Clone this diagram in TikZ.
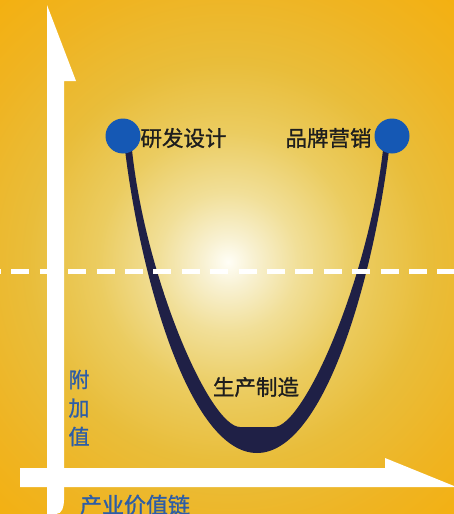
\documentclass[tikz,border=0pt]{standalone}
\usepackage{fontspec}
\newfontfamily\cjk[FakeBold=1.2]{Noto Sans CJK SC}
\definecolor{bgA}{HTML}{FFFEF6}
\definecolor{bgB}{HTML}{F8F1D2}
\definecolor{bgC}{HTML}{F1DF98}
\definecolor{bgD}{HTML}{EBCC60}
\definecolor{bgE}{HTML}{E9BD3A}
\definecolor{bgF}{HTML}{EFB422}
\definecolor{bgG}{HTML}{F4B010}
\definecolor{curvecol}{HTML}{1F2046}
\definecolor{dotblue}{HTML}{1558B4}
\definecolor{txtblue}{HTML}{2D5DA6}
\definecolor{txtdark}{HTML}{1E1E1E}
\pgfdeclareradialshading{bgshade}{\pgfpoint{0bp}{0bp}}{color(0bp)=(bgA); color(1.8bp)=(bgB); color(5bp)=(bgC); color(9.3bp)=(bgD); color(14.3bp)=(bgE); color(20bp)=(bgF); color(25bp)=(bgG); color(50bp)=(bgG)}
\tikzset{
  dotnode/.style={circle, fill=dotblue, minimum size=35pt, inner sep=0pt},
  lbl/.style={inner sep=0pt, text=txtdark, font=\cjk\fontsize{21.5pt}{25pt}\selectfont},
  blbl/.style={inner sep=0pt, text=txtblue, font=\cjk\fontsize{21pt}{28.5pt}\selectfont},
  axisfill/.style={fill=white},
  dashline/.style={white, line width=5pt, dash pattern=on 18pt off 10.4pt}
}
\begin{document}
\begin{tikzpicture}[x=1pt,y=-1pt]
\useasboundingbox (0,0) rectangle (454,514);
\begin{scope}
\clip (0,0) rectangle (454,514);
\shade[shading=bgshade] (228,262) circle[radius=350pt];
\end{scope}
% axes
\fill[axisfill] (47,5) -- (76,81) -- (64,81) -- (64,500) to[out=-90,in=0] (56,514) -- (47,514) -- cycle;
\fill[axisfill] (20,468) -- (385,468) -- (385,458) -- (454,486) -- (454,487) -- (20,487) -- cycle;
% smile curve
\fill[curvecol] (125,150) .. controls (141,280) and (190,453) .. (257,453)
  .. controls (324,453) and (373,280) .. (389,150) -- (383,150)
  .. controls (368,280) and (304,427) .. (274,427) -- (240,427)
  .. controls (210,427) and (146,280) .. (132,150) -- cycle;
% dashed line
\draw[dashline] (-17.1,271) -- (454,271);
% dots
\node[dotnode] (rd) at (123,136) {};
\node[dotnode] (bm) at (392,136) {};
% labels
\node[lbl] (t1) at (183.5,138) {研发设计};
\node[lbl] (t2) at (328.5,138) {品牌营销};
\node[lbl] (t3) at (256,387) {生产制造};
\node[blbl, align=center] (yl) at (79,408) {附\\加\\值};
\node[blbl, font=\cjk\fontsize{22pt}{26pt}\selectfont] (xl) at (135,505) {产业价值链};
\end{tikzpicture}
\end{document}
